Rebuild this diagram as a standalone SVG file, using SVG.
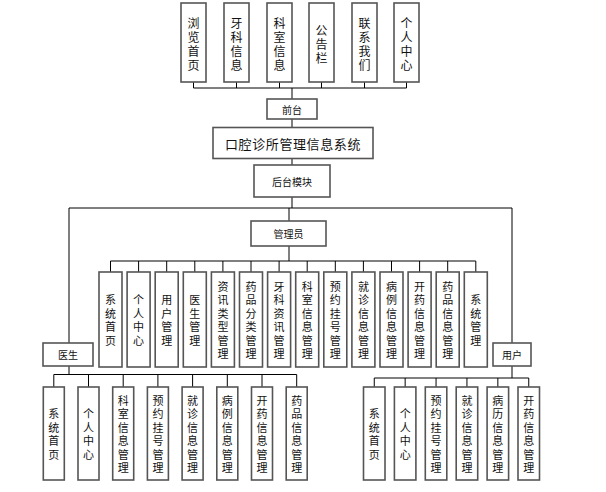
<svg xmlns="http://www.w3.org/2000/svg" width="606" height="492" viewBox="0 0 606 492">
<style>
  .box { fill: #ffffff; stroke: #555555; stroke-width: 1.6; }
  .wire { fill: none; stroke: #000000; stroke-width: 1; }
  text { font-family: "Noto Sans CJK SC", "Liberation Sans", sans-serif; fill: #111111; text-anchor: middle; dominant-baseline: central; }
  .t12 { font-size: 12px; }
  .t11 { font-size: 11px; }
  .t10 { font-size: 10px; }
  .title { font-size: 13px; letter-spacing: 0.6px; }
</style>
<rect width="606" height="492" fill="#ffffff"/>

<!-- connectors -->
<g id="connectors" class="wire">
  <!-- front-end pages to 前台 -->
  <path d="M193.5 82V88M236.5 82V88M279.5 82V88M321.5 82V88M364.5 82V88M406.5 82V88M193.5 88H406.5M292 88V99"/>
  <path d="M292 119V127.5M292 158.5V165M292 197V208"/>
  <!-- back-end bus -->
  <path d="M69 208H512M289 208V221M69 208V343M512 208V343"/>
  <!-- admin bus -->
  <path d="M289 246V261M110.5 261H475.8"/>
  <path d="M110.5 261V272M138.6 261V272M166.7 261V272M194.8 261V272M222.9 261V272M251 261V272M279.1 261V272M307.2 261V272M335.3 261V272M363.4 261V272M391.5 261V272M419.6 261V272M447.7 261V272M475.8 261V272"/>
  <!-- doctor bus -->
  <path d="M69 366V374.5M53.8 374.5H296.7"/>
  <path d="M53.8 374.5V387M88.5 374.5V387M123.2 374.5V387M157.9 374.5V387M192.6 374.5V387M227.3 374.5V387M262 374.5V387M296.7 374.5V387"/>
  <!-- user bus -->
  <path d="M512 366V378M374.25 378H528.75"/>
  <path d="M374.25 378V387M405.15 378V387M436.05 378V387M466.95 378V387M497.85 378V387M528.75 378V387"/>
</g>

<!-- front-end pages -->
<g id="f1"><rect class="box" x="181" y="3" width="25" height="79"/><text class="t12"><tspan x="193.5" y="21.5">浏</tspan><tspan x="193.5" y="35.5">览</tspan><tspan x="193.5" y="49.5">首</tspan><tspan x="193.5" y="63.5">页</tspan></text></g>
<g id="f2"><rect class="box" x="224" y="3" width="25" height="79"/><text class="t12"><tspan x="236.5" y="21.5">牙</tspan><tspan x="236.5" y="35.5">科</tspan><tspan x="236.5" y="49.5">信</tspan><tspan x="236.5" y="63.5">息</tspan></text></g>
<g id="f3"><rect class="box" x="267" y="3" width="25" height="79"/><text class="t12"><tspan x="279.5" y="21.5">科</tspan><tspan x="279.5" y="35.5">室</tspan><tspan x="279.5" y="49.5">信</tspan><tspan x="279.5" y="63.5">息</tspan></text></g>
<g id="f4"><rect class="box" x="309" y="3" width="25" height="79"/><text class="t12"><tspan x="321.5" y="28.5">公</tspan><tspan x="321.5" y="42.5">告</tspan><tspan x="321.5" y="56.5">栏</tspan></text></g>
<g id="f5"><rect class="box" x="352" y="3" width="25" height="79"/><text class="t12"><tspan x="364.5" y="21.5">联</tspan><tspan x="364.5" y="35.5">系</tspan><tspan x="364.5" y="49.5">我</tspan><tspan x="364.5" y="63.5">们</tspan></text></g>
<g id="f6"><rect class="box" x="394" y="3" width="25" height="79"/><text class="t12"><tspan x="406.5" y="21.5">个</tspan><tspan x="406.5" y="35.5">人</tspan><tspan x="406.5" y="49.5">中</tspan><tspan x="406.5" y="63.5">心</tspan></text></g>

<g id="frontend"><rect class="box" x="267" y="99" width="50" height="20"/><text class="t10" x="292" y="109">前台</text></g>
<g id="system"><rect class="box" x="213" y="127.5" width="160" height="31"/><text class="title" x="293" y="143">口腔诊所管理信息系统</text></g>
<g id="backend"><rect class="box" x="254" y="165" width="76" height="32"/><text class="t10" x="292" y="181">后台模块</text></g>
<g id="admin"><rect class="box" x="251" y="221" width="75" height="25"/><text class="t10" x="288.5" y="233.5">管理员</text></g>
<g id="doctor"><rect class="box" x="43" y="343" width="50" height="23"/><text class="t10" x="68" y="354.5">医生</text></g>
<g id="user"><rect class="box" x="493" y="343" width="38" height="23"/><text class="t10" x="512" y="354.5">用户</text></g>

<!-- admin modules -->
<g id="a1"><rect class="box" x="99" y="272" width="23" height="95"/><text class="t11"><tspan x="110.5" y="299.4">系</tspan><tspan x="110.5" y="312.8">统</tspan><tspan x="110.5" y="326.2">首</tspan><tspan x="110.5" y="339.6">页</tspan></text></g>
<g id="a2"><rect class="box" x="127.1" y="272" width="23" height="95"/><text class="t11"><tspan x="138.6" y="299.4">个</tspan><tspan x="138.6" y="312.8">人</tspan><tspan x="138.6" y="326.2">中</tspan><tspan x="138.6" y="339.6">心</tspan></text></g>
<g id="a3"><rect class="box" x="155.2" y="272" width="23" height="95"/><text class="t11"><tspan x="166.7" y="299.4">用</tspan><tspan x="166.7" y="312.8">户</tspan><tspan x="166.7" y="326.2">管</tspan><tspan x="166.7" y="339.6">理</tspan></text></g>
<g id="a4"><rect class="box" x="183.3" y="272" width="23" height="95"/><text class="t11"><tspan x="194.8" y="299.4">医</tspan><tspan x="194.8" y="312.8">生</tspan><tspan x="194.8" y="326.2">管</tspan><tspan x="194.8" y="339.6">理</tspan></text></g>
<g id="a5"><rect class="box" x="211.4" y="272" width="23" height="95"/><text class="t11"><tspan x="222.9" y="286">资</tspan><tspan x="222.9" y="299.4">讯</tspan><tspan x="222.9" y="312.8">类</tspan><tspan x="222.9" y="326.2">型</tspan><tspan x="222.9" y="339.6">管</tspan><tspan x="222.9" y="353">理</tspan></text></g>
<g id="a6"><rect class="box" x="239.5" y="272" width="23" height="95"/><text class="t11"><tspan x="251" y="286">药</tspan><tspan x="251" y="299.4">品</tspan><tspan x="251" y="312.8">分</tspan><tspan x="251" y="326.2">类</tspan><tspan x="251" y="339.6">管</tspan><tspan x="251" y="353">理</tspan></text></g>
<g id="a7"><rect class="box" x="267.6" y="272" width="23" height="95"/><text class="t11"><tspan x="279.1" y="286">牙</tspan><tspan x="279.1" y="299.4">科</tspan><tspan x="279.1" y="312.8">资</tspan><tspan x="279.1" y="326.2">讯</tspan><tspan x="279.1" y="339.6">管</tspan><tspan x="279.1" y="353">理</tspan></text></g>
<g id="a8"><rect class="box" x="295.7" y="272" width="23" height="95"/><text class="t11"><tspan x="307.2" y="286">科</tspan><tspan x="307.2" y="299.4">室</tspan><tspan x="307.2" y="312.8">信</tspan><tspan x="307.2" y="326.2">息</tspan><tspan x="307.2" y="339.6">管</tspan><tspan x="307.2" y="353">理</tspan></text></g>
<g id="a9"><rect class="box" x="323.8" y="272" width="23" height="95"/><text class="t11"><tspan x="335.3" y="286">预</tspan><tspan x="335.3" y="299.4">约</tspan><tspan x="335.3" y="312.8">挂</tspan><tspan x="335.3" y="326.2">号</tspan><tspan x="335.3" y="339.6">管</tspan><tspan x="335.3" y="353">理</tspan></text></g>
<g id="a10"><rect class="box" x="351.9" y="272" width="23" height="95"/><text class="t11"><tspan x="363.4" y="286">就</tspan><tspan x="363.4" y="299.4">诊</tspan><tspan x="363.4" y="312.8">信</tspan><tspan x="363.4" y="326.2">息</tspan><tspan x="363.4" y="339.6">管</tspan><tspan x="363.4" y="353">理</tspan></text></g>
<g id="a11"><rect class="box" x="380" y="272" width="23" height="95"/><text class="t11"><tspan x="391.5" y="286">病</tspan><tspan x="391.5" y="299.4">例</tspan><tspan x="391.5" y="312.8">信</tspan><tspan x="391.5" y="326.2">息</tspan><tspan x="391.5" y="339.6">管</tspan><tspan x="391.5" y="353">理</tspan></text></g>
<g id="a12"><rect class="box" x="408.1" y="272" width="23" height="95"/><text class="t11"><tspan x="419.6" y="286">开</tspan><tspan x="419.6" y="299.4">药</tspan><tspan x="419.6" y="312.8">信</tspan><tspan x="419.6" y="326.2">息</tspan><tspan x="419.6" y="339.6">管</tspan><tspan x="419.6" y="353">理</tspan></text></g>
<g id="a13"><rect class="box" x="436.2" y="272" width="23" height="95"/><text class="t11"><tspan x="447.7" y="286">药</tspan><tspan x="447.7" y="299.4">品</tspan><tspan x="447.7" y="312.8">信</tspan><tspan x="447.7" y="326.2">息</tspan><tspan x="447.7" y="339.6">管</tspan><tspan x="447.7" y="353">理</tspan></text></g>
<g id="a14"><rect class="box" x="464.3" y="272" width="23" height="95"/><text class="t11"><tspan x="475.8" y="299.4">系</tspan><tspan x="475.8" y="312.8">统</tspan><tspan x="475.8" y="326.2">管</tspan><tspan x="475.8" y="339.6">理</tspan></text></g>

<!-- doctor modules -->
<g id="d1"><rect class="box" x="43.3" y="387" width="21" height="93"/><text class="t11"><tspan x="53.8" y="413.4">系</tspan><tspan x="53.8" y="426.8">统</tspan><tspan x="53.8" y="440.2">首</tspan><tspan x="53.8" y="453.6">页</tspan></text></g>
<g id="d2"><rect class="box" x="78" y="387" width="21" height="93"/><text class="t11"><tspan x="88.5" y="413.4">个</tspan><tspan x="88.5" y="426.8">人</tspan><tspan x="88.5" y="440.2">中</tspan><tspan x="88.5" y="453.6">心</tspan></text></g>
<g id="d3"><rect class="box" x="112.7" y="387" width="21" height="93"/><text class="t11"><tspan x="123.2" y="400">科</tspan><tspan x="123.2" y="413.4">室</tspan><tspan x="123.2" y="426.8">信</tspan><tspan x="123.2" y="440.2">息</tspan><tspan x="123.2" y="453.6">管</tspan><tspan x="123.2" y="467">理</tspan></text></g>
<g id="d4"><rect class="box" x="147.4" y="387" width="21" height="93"/><text class="t11"><tspan x="157.9" y="400">预</tspan><tspan x="157.9" y="413.4">约</tspan><tspan x="157.9" y="426.8">挂</tspan><tspan x="157.9" y="440.2">号</tspan><tspan x="157.9" y="453.6">管</tspan><tspan x="157.9" y="467">理</tspan></text></g>
<g id="d5"><rect class="box" x="182.1" y="387" width="21" height="93"/><text class="t11"><tspan x="192.6" y="400">就</tspan><tspan x="192.6" y="413.4">诊</tspan><tspan x="192.6" y="426.8">信</tspan><tspan x="192.6" y="440.2">息</tspan><tspan x="192.6" y="453.6">管</tspan><tspan x="192.6" y="467">理</tspan></text></g>
<g id="d6"><rect class="box" x="216.8" y="387" width="21" height="93"/><text class="t11"><tspan x="227.3" y="400">病</tspan><tspan x="227.3" y="413.4">例</tspan><tspan x="227.3" y="426.8">信</tspan><tspan x="227.3" y="440.2">息</tspan><tspan x="227.3" y="453.6">管</tspan><tspan x="227.3" y="467">理</tspan></text></g>
<g id="d7"><rect class="box" x="251.5" y="387" width="21" height="93"/><text class="t11"><tspan x="262" y="400">开</tspan><tspan x="262" y="413.4">药</tspan><tspan x="262" y="426.8">信</tspan><tspan x="262" y="440.2">息</tspan><tspan x="262" y="453.6">管</tspan><tspan x="262" y="467">理</tspan></text></g>
<g id="d8"><rect class="box" x="286.2" y="387" width="21" height="93"/><text class="t11"><tspan x="296.7" y="400">药</tspan><tspan x="296.7" y="413.4">品</tspan><tspan x="296.7" y="426.8">信</tspan><tspan x="296.7" y="440.2">息</tspan><tspan x="296.7" y="453.6">管</tspan><tspan x="296.7" y="467">理</tspan></text></g>

<!-- user modules -->
<g id="u1"><rect class="box" x="363.5" y="387" width="21.5" height="93"/><text class="t11"><tspan x="374.25" y="413.4">系</tspan><tspan x="374.25" y="426.8">统</tspan><tspan x="374.25" y="440.2">首</tspan><tspan x="374.25" y="453.6">页</tspan></text></g>
<g id="u2"><rect class="box" x="394.4" y="387" width="21.5" height="93"/><text class="t11"><tspan x="405.15" y="413.4">个</tspan><tspan x="405.15" y="426.8">人</tspan><tspan x="405.15" y="440.2">中</tspan><tspan x="405.15" y="453.6">心</tspan></text></g>
<g id="u3"><rect class="box" x="425.3" y="387" width="21.5" height="93"/><text class="t11"><tspan x="436.05" y="400">预</tspan><tspan x="436.05" y="413.4">约</tspan><tspan x="436.05" y="426.8">挂</tspan><tspan x="436.05" y="440.2">号</tspan><tspan x="436.05" y="453.6">管</tspan><tspan x="436.05" y="467">理</tspan></text></g>
<g id="u4"><rect class="box" x="456.2" y="387" width="21.5" height="93"/><text class="t11"><tspan x="466.95" y="400">就</tspan><tspan x="466.95" y="413.4">诊</tspan><tspan x="466.95" y="426.8">信</tspan><tspan x="466.95" y="440.2">息</tspan><tspan x="466.95" y="453.6">管</tspan><tspan x="466.95" y="467">理</tspan></text></g>
<g id="u5"><rect class="box" x="487.1" y="387" width="21.5" height="93"/><text class="t11"><tspan x="497.85" y="400">病</tspan><tspan x="497.85" y="413.4">历</tspan><tspan x="497.85" y="426.8">信</tspan><tspan x="497.85" y="440.2">息</tspan><tspan x="497.85" y="453.6">管</tspan><tspan x="497.85" y="467">理</tspan></text></g>
<g id="u6"><rect class="box" x="518" y="387" width="21.5" height="93"/><text class="t11"><tspan x="528.75" y="400">开</tspan><tspan x="528.75" y="413.4">药</tspan><tspan x="528.75" y="426.8">信</tspan><tspan x="528.75" y="440.2">息</tspan><tspan x="528.75" y="453.6">管</tspan><tspan x="528.75" y="467">理</tspan></text></g>
</svg>
